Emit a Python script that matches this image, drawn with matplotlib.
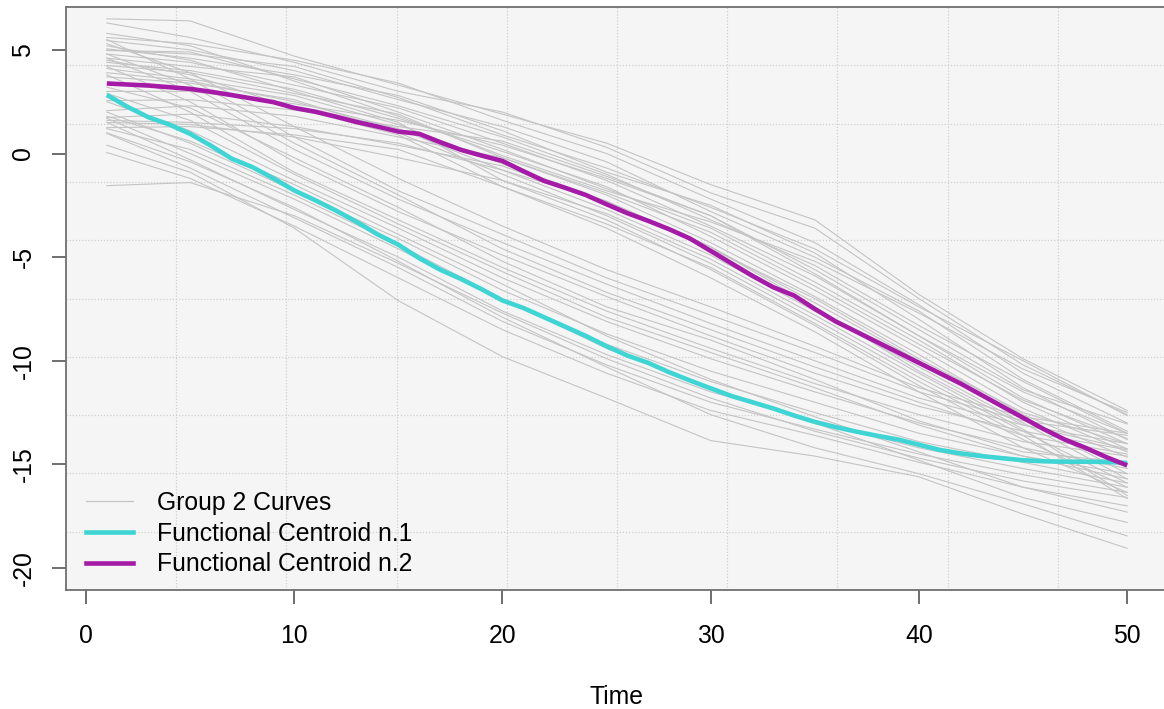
import matplotlib
matplotlib.use("Agg")
import matplotlib.pyplot as plt
from matplotlib.lines import Line2D

plt.rcParams["font.family"] = ["Liberation Sans", "DejaVu Sans"]

# ---- data -------------------------------------------------------------
time_points = list(range(1, 51))

centroid_1 = [2.83, 2.25, 1.75, 1.40, 0.95, 0.38, -0.25, -0.66, -1.20, -1.78,
              -2.25, -2.75, -3.30, -3.90, -4.40, -5.05, -5.60, -6.05, -6.55, -7.09,
              -7.45, -7.90, -8.35, -8.80, -9.30, -9.75, -10.10, -10.55, -10.95, -11.33,
              -11.70, -12.00, -12.30, -12.64, -12.95, -13.20, -13.42, -13.62, -13.80, -14.05,
              -14.30, -14.47, -14.60, -14.70, -14.80, -14.85, -14.87, -14.87, -14.88, -14.93]

centroid_2 = [3.38, 3.33, 3.28, 3.20, 3.12, 2.98, 2.82, 2.65, 2.48, 2.20,
              2.02, 1.78, 1.52, 1.30, 1.06, 0.95, 0.55, 0.18, -0.10, -0.36,
              -0.85, -1.32, -1.65, -2.00, -2.45, -2.88, -3.25, -3.65, -4.10, -4.70,
              -5.30, -5.90, -6.45, -6.85, -7.50, -8.10, -8.60, -9.10, -9.60, -10.10,
              -10.60, -11.10, -11.65, -12.20, -12.75, -13.30, -13.80, -14.20, -14.65, -15.05]

# group 2 curves, sampled at these times
curve_times = [1, 5, 10, 15, 20, 25, 30, 35, 40, 45, 50]

upper_curves = [
    [6.50, 6.40, 4.70, 3.30, 1.90, 0.50, -1.50, -3.20, -6.80, -9.90, -12.40],
    [6.30, 5.60, 4.40, 3.00, 2.00, 0.30, -1.90, -3.60, -7.00, -10.20, -12.60],
    [5.60, 5.30, 4.50, 3.40, 1.60, 0.00, -2.20, -4.30, -7.30, -10.60, -13.00],
    [5.45, 5.00, 4.00, 2.60, 1.30, -0.40, -2.80, -5.00, -7.60, -10.90, -13.40],
    [5.05, 4.60, 3.80, 2.80, 1.10, -0.90, -2.50, -4.80, -8.00, -11.30, -13.80],
    [4.97, 4.90, 3.60, 2.30, 0.80, -1.00, -3.20, -5.40, -8.30, -11.00, -13.50],
    [4.80, 4.40, 3.30, 2.20, 0.50, -1.30, -3.50, -5.90, -8.80, -11.80, -14.00],
    [4.60, 4.20, 3.70, 2.00, 0.20, -1.70, -3.60, -6.20, -9.00, -12.00, -14.25],
    [4.40, 4.00, 3.10, 1.70, 0.10, -1.60, -4.00, -6.60, -9.40, -12.30, -14.40],
    [4.25, 3.90, 2.90, 1.90, -0.20, -2.00, -4.30, -6.90, -9.70, -12.60, -14.65],
    [4.10, 3.60, 2.80, 1.40, -0.50, -2.30, -4.50, -7.20, -10.00, -12.80, -15.45],
    [3.90, 3.50, 2.50, 1.20, -0.80, -2.70, -4.90, -7.60, -10.30, -13.00, -15.70],
    [3.70, 3.40, 2.60, 1.00, -1.00, -3.00, -5.30, -8.00, -10.80, -13.40, -15.90],
    [5.20, 4.50, 3.00, 1.50, -1.30, -3.20, -5.60, -8.30, -11.20, -13.80, -16.10],
    [4.50, 3.80, 2.20, 0.90, -1.60, -3.60, -6.00, -8.60, -11.50, -14.20, -16.35],
    [2.55, 2.60, 2.10, 1.30, 0.60, -1.10, -3.00, -5.60, -8.50, -11.40, -13.05],
    [2.07, 2.30, 1.80, 0.80, -0.20, -1.90, -3.80, -6.40, -9.20, -11.90, -13.75],
    [1.74, 1.90, 1.30, 0.40, -0.60, -2.40, -4.60, -7.00, -9.90, -12.50, -14.00],
    [1.60, 1.50, 1.20, 0.50, -0.80, -2.30, -4.50, -7.40, -10.50, -13.10, -14.25],
    [1.50, 1.40, 0.80, -0.20, -1.30, -2.90, -5.10, -7.80, -10.60, -13.30, -16.50],
    [1.25, 1.30, 0.90, 0.20, -1.60, -3.40, -5.50, -8.20, -11.00, -13.60, -16.65],
    [5.80, 5.20, 3.50, 1.80, -0.10, -1.80, -3.30, -5.20, -7.70, -10.40, -12.50],
    [5.00, 4.80, 4.20, 2.70, 0.90, -0.70, -2.60, -4.60, -7.40, -10.00, -12.65],
    [3.00, 3.00, 2.40, 1.60, 0.40, -1.20, -3.00, -5.80, -8.80, -11.50, -13.50],
]

lower_curves = [
    [4.60, 3.00, 0.20, -2.20, -4.30, -6.30, -8.20, -10.00, -11.80, -13.10, -14.00],
    [4.20, 2.50, -0.40, -2.80, -4.90, -6.90, -8.80, -10.60, -12.20, -13.40, -14.30],
    [5.50, 3.60, 0.80, -1.80, -3.90, -6.00, -7.80, -9.60, -11.50, -12.90, -13.60],
    [3.80, 2.00, -0.90, -3.20, -5.50, -7.60, -9.40, -11.10, -12.60, -13.90, -14.60],
    [2.50, 1.10, -1.30, -3.60, -6.00, -8.10, -9.90, -11.50, -13.00, -14.20, -15.20],
    [2.00, 0.50, -1.80, -4.10, -6.60, -8.70, -10.50, -12.00, -13.50, -14.60, -15.45],
    [1.70, 0.00, -2.20, -4.60, -7.10, -9.20, -11.00, -12.50, -13.90, -14.90, -15.90],
    [1.50, -0.30, -2.70, -5.00, -7.60, -9.70, -11.50, -12.90, -14.20, -15.20, -16.10],
    [0.97, -0.70, -3.10, -5.50, -8.10, -10.20, -12.00, -13.30, -14.50, -15.50, -16.35],
    [0.05, -1.20, -3.50, -6.00, -8.50, -10.60, -12.40, -13.60, -14.90, -16.10, -17.30],
    [-1.55, -1.40, -3.00, -5.30, -7.70, -9.90, -11.80, -13.40, -14.70, -15.80, -16.60],
    [2.90, 1.60, -1.00, -3.40, -5.70, -7.90, -9.60, -11.30, -13.10, -14.60, -15.70],
    [3.20, 2.20, -0.20, -2.60, -5.20, -7.40, -9.00, -10.90, -12.90, -14.40, -14.90],
    [1.20, 0.20, -2.00, -4.40, -7.00, -9.40, -11.30, -13.00, -14.80, -16.60, -17.80],
    [1.80, 0.60, -1.50, -3.90, -6.30, -8.80, -10.90, -12.70, -14.40, -16.10, -17.00],
    [0.40, -0.90, -3.60, -7.10, -9.80, -11.80, -13.85, -14.60, -15.60, -17.40, -19.05],
    [1.00, -0.40, -2.60, -5.20, -7.90, -10.30, -12.60, -14.20, -15.45, -16.90, -18.45],
    [4.80, 3.30, 0.50, -2.00, -4.60, -6.70, -8.50, -10.30, -12.00, -13.60, -14.50],
    [5.30, 3.90, 1.30, -1.20, -3.50, -5.60, -7.40, -9.30, -11.30, -12.70, -13.50],
]

x_ticks = [0, 10, 20, 30, 40, 50]
y_ticks = [-20, -15, -10, -5, 0, 5]
legend_labels = ["Group 2 Curves", "Functional Centroid n.1", "Functional Centroid n.2"]

# ---- styling ----------------------------------------------------------
W, H = 1164, 709
curve_color = "#c4c4c4"
c1_color = "#3fd5d5"
c2_color = "#a51ba8"
panel_color = "#f5f5f5"
frame_color = "#707070"
font_size = 17.8

fig = plt.figure(figsize=(W / 100, H / 100), dpi=100)
fig.patch.set_facecolor("white")

left_px, right_px, top_px, bottom_px = 66, 1168, 7, 590
ax = fig.add_axes([left_px / W, 1 - bottom_px / H,
                   (right_px - left_px) / W, (bottom_px - top_px) / H])
ax.set_facecolor(panel_color)

xlim = (-0.96, 51.96)
ylim = (-21.06, 7.07)
ax.set_xlim(*xlim)
ax.set_ylim(*ylim)

# dotted reference grid splitting the panel into 10 x 10 cells
for k in range(1, 10):
    gx = xlim[0] + k * (xlim[1] - xlim[0]) / 10
    gy = ylim[0] + k * (ylim[1] - ylim[0]) / 10
    ax.axvline(gx, color="#d0d0d0", lw=0.9, ls=(0, (1, 1.5)), zorder=0)
    ax.axhline(gy, color="#d0d0d0", lw=0.9, ls=(0, (1, 1.5)), zorder=0)

for curve in upper_curves + lower_curves:
    ax.plot(curve_times, curve, color=curve_color, lw=0.8, zorder=1)

ax.plot(time_points, centroid_1, color=c1_color, lw=3.3, zorder=3,
        solid_capstyle="butt")
ax.plot(time_points, centroid_2, color=c2_color, lw=3.3, zorder=4,
        solid_capstyle="butt")

for side in ax.spines.values():
    side.set_color(frame_color)
    side.set_linewidth(1.3)

ax.set_xticks(x_ticks)
ax.set_yticks(y_ticks)
ax.set_xticklabels([str(v) for v in x_ticks], fontsize=font_size)
ax.set_yticklabels([str(v) for v in y_ticks], fontsize=font_size,
                   rotation=90, va="center")
ax.tick_params(axis="both", direction="out", length=10, width=1.2,
               color="#555555", labelcolor="black")
ax.tick_params(axis="x", pad=14.5)
ax.tick_params(axis="y", pad=12)

ax.set_xlabel("Time", fontsize=font_size, labelpad=26.5)

handles = [
    Line2D([], [], color=curve_color, lw=0.9),
    Line2D([], [], color=c1_color, lw=3.3),
    Line2D([], [], color=c2_color, lw=3.3),
]
ax.legend(handles, legend_labels, loc="upper left",
          bbox_to_anchor=(86 / W, 1 - 491 / H), bbox_transform=fig.transFigure,
          frameon=False, fontsize=font_size, borderpad=0, borderaxespad=0,
          handlelength=1.9, handletextpad=0.97, labelspacing=0.27)

fig.savefig("out.png", dpi=100, facecolor="white")
